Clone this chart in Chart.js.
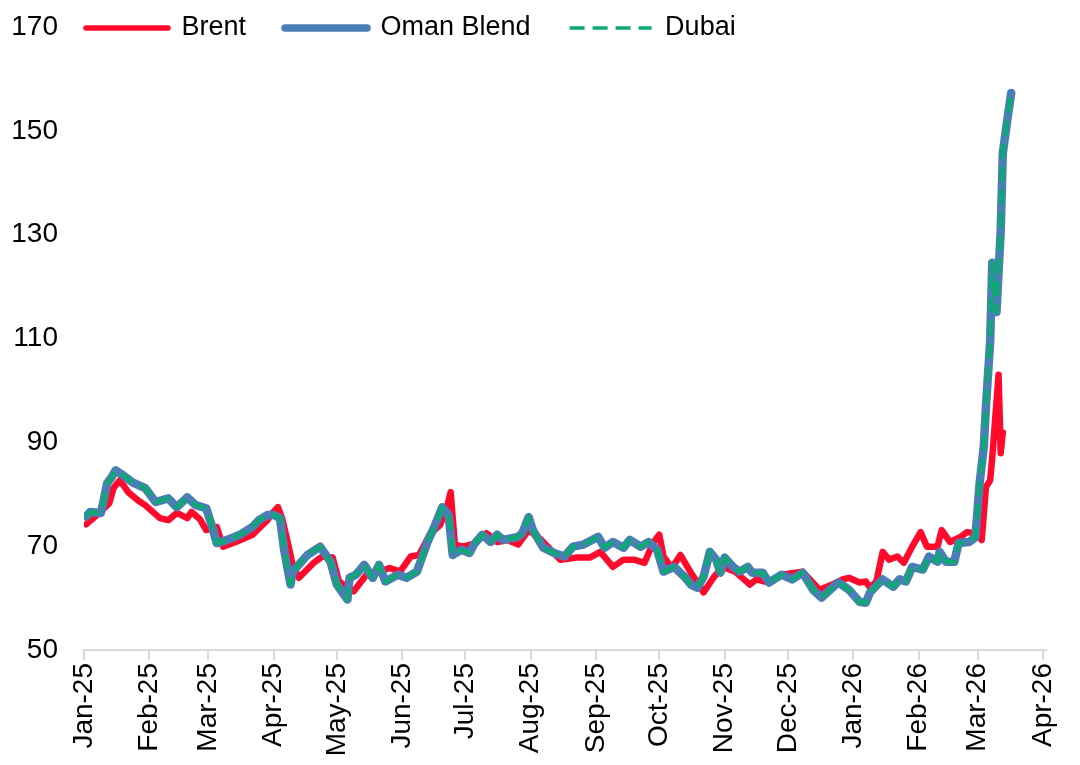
<!DOCTYPE html>
<html lang="en">
<head>
<meta charset="UTF-8" />
<title>Brent, Oman Blend and Dubai</title>
<script src="https://cdn.jsdelivr.net/npm/chart.js"></script>
<style>
  body { margin: 0; background: #ffffff; }
  canvas { display: block; }
</style>
</head>
<body>
<canvas id="crudeChart" width="1080" height="765"></canvas>
<script>
// x values are days counted from 1 Jan 2025
const tickLabels = ['Jan-25', 'Feb-25', 'Mar-25', 'Apr-25', 'May-25', 'Jun-25', 'Jul-25', 'Aug-25',
  'Sep-25', 'Oct-25', 'Nov-25', 'Dec-25', 'Jan-26', 'Feb-26', 'Mar-26', 'Apr-26']

const brentDays = [1, 5, 8, 12, 14, 17, 21, 26, 29, 36, 40, 44, 49, 51, 55, 58, 63, 66, 72, 80,
  87, 89, 92, 94, 97, 99, 102, 109, 113, 118, 121, 128, 134, 140, 145, 150, 155, 159, 164, 169,
  172, 174, 176, 180, 185, 191, 196, 201, 206, 211, 217, 226, 234, 240, 245, 251, 256, 261, 266, 270,
  273, 275, 279, 283, 288, 294, 299, 303, 309, 316, 319, 325, 331, 341, 349, 355, 360, 363, 368, 371,
  373, 376, 379, 382, 386, 389, 393, 397, 400, 405, 407, 411, 416, 419, 423, 426, 428, 430, 431, 434,
  435, 436]
const brentPrices = [74.2, 75.6, 76.7, 78.3, 81.2, 82.7, 80.4, 78.7, 77.9, 75.4, 75.0, 76.4, 75.4, 76.6, 75.2, 73.1, 73.7, 69.9, 70.8, 72.2,
  75.0, 76.2, 77.5, 75.4, 70.2, 66.4, 63.9, 66.8, 68.0, 67.8, 63.2, 61.3, 64.5, 65.1, 65.8, 65.1, 68.0, 68.3, 72.2, 74.1,
  77.2, 80.4, 70.3, 69.9, 70.5, 72.5, 70.8, 71.2, 70.3, 73.1, 71.2, 67.4, 67.8, 67.8, 68.9, 66.0, 67.4, 67.4, 66.8, 70.6,
  72.2, 68.0, 65.8, 68.3, 64.9, 61.1, 64.1, 66.0, 65.1, 62.6, 63.6, 63.0, 64.5, 65.1, 61.6, 62.6, 63.6, 63.9, 63.0, 63.2,
  62.0, 63.2, 68.9, 67.4, 68.0, 66.8, 69.9, 72.7, 69.9, 69.9, 73.1, 70.8, 71.8, 72.7, 72.5, 71.2, 81.4, 82.7, 87.1, 103.0,
  87.9, 91.9]

const omanDays = [1, 3, 8, 9, 11, 13, 15, 18, 23, 29, 34, 40, 44, 49, 53, 58, 61, 63, 68, 74,
  80, 83, 87, 90, 93, 95, 98, 99, 106, 112, 117, 120, 125, 126, 129, 133, 137, 140, 143, 149,
  153, 158, 163, 166, 170, 173, 175, 179, 183, 185, 189, 193, 196, 199, 206, 208, 211, 213, 218, 223,
  228, 232, 237, 244, 247, 251, 256, 259, 264, 268, 272, 275, 280, 285, 288, 291, 294, 297, 300, 302,
  304, 308, 311, 315, 317, 322, 325, 331, 336, 341, 346, 350, 354, 358, 363, 368, 371, 373, 379, 384,
  387, 390, 393, 398, 401, 405, 406, 409, 413, 415, 420, 423, 425, 427, 428, 430, 431, 433, 435, 436,
  438, 440]
const omanPrices = [75.7, 76.6, 76.4, 78.2, 82.1, 83.2, 84.6, 83.8, 82.3, 81.2, 78.5, 79.2, 77.5, 79.4, 77.9, 77.3, 73.5, 70.6, 71.2, 72.2,
  73.7, 75.0, 76.0, 76.0, 75.4, 69.2, 62.6, 65.1, 68.3, 69.9, 67.0, 62.6, 59.7, 63.9, 64.5, 66.4, 63.9, 66.4, 63.2, 64.5,
  63.9, 65.1, 70.8, 73.5, 77.5, 76.0, 68.3, 69.3, 68.7, 70.3, 72.2, 70.8, 72.2, 71.2, 71.8, 72.5, 75.6, 73.1, 69.7, 68.7,
  68.0, 69.9, 70.3, 71.8, 69.7, 70.8, 69.7, 71.2, 69.9, 70.8, 69.3, 65.1, 66.0, 64.1, 62.6, 62.0, 64.1, 68.9, 67.4, 64.9,
  67.8, 66.0, 65.1, 66.0, 64.9, 64.9, 63.0, 64.5, 63.6, 64.9, 61.6, 60.1, 61.6, 63.0, 61.6, 59.3, 59.1, 61.1, 63.6, 62.2,
  63.6, 63.2, 66.0, 65.5, 68.0, 67.0, 68.9, 67.0, 67.0, 70.6, 70.8, 71.7, 82.1, 89.3, 96.9, 109.4, 124.6, 115.1, 130.6, 145.7,
  151.7, 157.3]
const dubaiPrices = [75.6, 76.6, 76.4, 78.2, 82.0, 83.2, 84.6, 83.8, 82.2, 81.2, 78.5, 79.2, 77.5, 79.3, 77.9, 77.3, 73.5, 70.6, 71.2, 72.2,
  73.7, 75.0, 76.0, 76.0, 75.4, 69.2, 62.6, 65.1, 68.3, 69.9, 67.0, 62.6, 59.7, 63.9, 64.5, 66.4, 63.9, 66.4, 63.2, 64.5,
  63.9, 65.1, 70.8, 73.5, 77.4, 76.0, 68.3, 69.3, 68.7, 70.3, 72.2, 70.8, 72.2, 71.2, 71.8, 72.5, 75.6, 73.1, 69.7, 68.7,
  68.0, 69.9, 70.3, 71.8, 69.7, 70.8, 69.7, 71.2, 69.9, 70.8, 69.3, 65.1, 66.0, 64.1, 62.6, 62.0, 64.1, 68.9, 67.4, 64.9,
  67.8, 66.0, 65.1, 66.0, 64.9, 64.9, 63.0, 64.5, 63.6, 64.9, 61.6, 60.1, 61.6, 63.0, 61.6, 59.2, 59.1, 61.1, 63.6, 62.2,
  63.6, 63.2, 66.0, 65.5, 68.0, 67.0, 68.9, 67.0, 67.0, 70.6, 70.8, 71.7, 82.1, 89.3, 96.9, 109.4, 124.6, 115.1, 130.6, 145.7,
  151.7, 157.3]

const FONT = "'Liberation Sans', Arial, sans-serif"
const LEGEND_SIZE = 27

const tickDays = tickLabels.map((_, i) => (Date.UTC(2025, i, 1) - Date.UTC(2025, 0, 1)) / 86400000)

function toPoints(days, prices) {
  return days.map((d, i) => ({ x: d, y: prices[i] }))
}

// legend takes no layout space and sits on the 170 line, right of the axis labels
const legendPlacer = {
  id: 'legendPlacer',
  beforeInit(chart) {
    const fit = chart.legend.fit
    chart.legend.fit = function () {
      fit.call(this)
      this.height = 0
    }
  },
  afterLayout(chart) {
    const legend = chart.legend
    const pad = chart.options.plugins.legend.labels.padding
    legend.left = 86 - pad
    legend.top = 28 - pad - LEGEND_SIZE / 2
    legend.bottom = legend.top + 2 * pad + LEGEND_SIZE + 10 // legend clips its drawing to this box
  }
}

new Chart(document.getElementById('crudeChart'), {
  type: 'line',
  data: {
    datasets: [
      {
        label: 'Brent',
        data: toPoints(brentDays, brentPrices),
        borderColor: '#ff0a2a',
        borderWidth: 6.5,
        borderCapStyle: 'round',
        order: 3
      },
      {
        label: 'Oman Blend',
        data: toPoints(omanDays, omanPrices),
        borderColor: '#4a7fb6',
        borderWidth: 8.5,
        borderCapStyle: 'round',
        order: 2
      },
      {
        label: 'Dubai',
        data: toPoints(omanDays, dubaiPrices),
        borderColor: '#0fa874',
        borderWidth: 4.5,
        borderDash: [15, 8],
        borderCapStyle: 'butt',
        order: 1
      }
    ]
  },
  options: {
    responsive: false,
    animation: false,
    layout: { padding: { top: 27, right: 34, left: 0, bottom: 0 } },
    elements: {
      point: { radius: 0 },
      line: { tension: 0, borderJoinStyle: 'round' }
    },
    plugins: {
      tooltip: { enabled: false },
      legend: {
        position: 'top',
        align: 'start',
        labels: {
          usePointStyle: true,
          pointStyle: 'line',
          pointStyleWidth: 82,
          padding: 39,
          color: '#000000',
          font: { family: FONT, size: LEGEND_SIZE },
          sort: (a, b) => a.datasetIndex - b.datasetIndex,
          // point style items lose the line dash and caps, copy them back from the datasets
          generateLabels: (chart) =>
            Chart.defaults.plugins.legend.labels.generateLabels(chart).map((item) => {
              const ds = chart.data.datasets[item.datasetIndex]
              item.lineDash = ds.borderDash || []
              item.lineCap = ds.borderDash ? 'butt' : 'round'
              item.lineWidth = ds.borderDash ? 3.5 : ds.borderWidth - 1
              return item
            })
        }
      }
    },
    scales: {
      x: {
        type: 'linear',
        min: 0,
        max: 456.5,
        afterBuildTicks: (scale) => {
          scale.ticks = tickDays.map((v) => ({ value: v }))
        },
        afterFit: (scale) => {
          scale.height = 115
        },
        grid: {
          drawOnChartArea: false,
          drawTicks: true,
          tickLength: 10,
          color: '#d9d9d9',
          lineWidth: 2
        },
        border: { display: true, color: '#d9d9d9', width: 2 },
        ticks: {
          autoSkip: false,
          minRotation: 90,
          maxRotation: 90,
          padding: 3,
          color: '#000000',
          font: { family: FONT, size: 28 },
          callback: (value, index) => tickLabels[index]
        }
      },
      y: {
        min: 50,
        max: 170,
        afterFit: (scale) => {
          scale.width = 84
        },
        // tick marks are not drawn, their length only sets the gap to the labels
        grid: { display: false, drawTicks: true, tickLength: 26 },
        border: { display: false },
        ticks: {
          stepSize: 20,
          padding: 0,
          color: '#000000',
          font: { family: FONT, size: 28 }
        }
      }
    }
  },
  plugins: [legendPlacer]
})
</script>
</body>
</html>
